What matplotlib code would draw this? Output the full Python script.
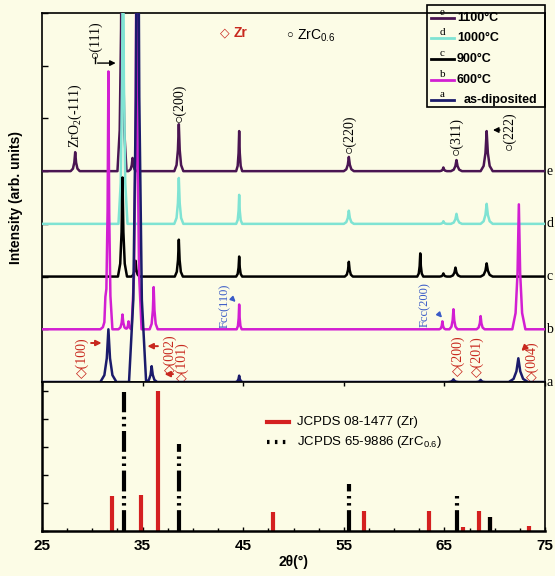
import numpy as np
import matplotlib
matplotlib.use('Agg')
import matplotlib.pyplot as plt

# kolory
BG = '#fcfce6'
C_E = '#4a1552'
C_D = '#7fe3d3'
C_C = '#000000'
C_B = '#d21fd2'
C_A = '#1b1b6b'
RED = '#c8281e'
BLUE = '#3a5bc7'

SERIF = ['Liberation Serif', 'DejaVu Serif']
SANS = ['Liberation Sans', 'DejaVu Sans']
plt.rcParams['font.family'] = SANS

# piki: (2theta, wysokosc, polszerokosc podstawy)
peaks_e = [(28.3, 0.36, 0.45), (32.95, 6.0, 0.45), (34.0, 0.25, 0.4), (38.6, 0.89, 0.45),
           (44.6, 0.76, 0.3), (55.5, 0.27, 0.5), (64.9, 0.07, 0.35), (66.2, 0.21, 0.55),
           (69.2, 0.76, 0.6)]
peaks_d = [(33.05, 6.0, 0.45), (38.6, 0.87, 0.45), (44.6, 0.55, 0.3), (55.5, 0.25, 0.5),
           (64.9, 0.05, 0.35), (66.2, 0.19, 0.55), (69.2, 0.38, 0.6)]
peaks_c = [(33.0, 1.88, 0.45), (34.3, 0.3, 0.4), (38.6, 0.7, 0.4), (44.6, 0.38, 0.3),
           (55.5, 0.28, 0.4), (62.6, 0.44, 0.3), (64.9, 0.06, 0.35), (66.1, 0.17, 0.5),
           (69.2, 0.25, 0.6)]
peaks_b = [(31.3, 0.3, 0.5), (31.6, 4.86, 0.4), (33.0, 0.28, 0.4), (33.6, 0.15, 0.3),
           (34.4, 8.0, 0.5), (36.1, 0.8, 0.4), (44.6, 0.47, 0.25), (64.8, 0.15, 0.3),
           (65.9, 0.38, 0.4), (68.6, 0.25, 0.4), (72.4, 2.37, 0.65)]
peaks_a = [(31.6, 1.0, 0.8), (34.5, 12.0, 0.85), (35.9, 0.3, 0.55), (44.6, 0.12, 0.35),
           (65.9, 0.05, 0.55), (68.6, 0.04, 0.45), (72.35, 0.45, 0.95)]

curves = [('a', peaks_a, C_A, 'as-diposited'),
          ('b', peaks_b, C_B, '600°C'),
          ('c', peaks_c, C_C, '900°C'),
          ('d', peaks_d, C_D, '1000°C'),
          ('e', peaks_e, C_E, '1100°C')]

# wzorce JCPDS
zr_pos = [31.95, 34.84, 36.51, 47.99, 56.96, 63.48, 66.8, 68.45, 69.55, 73.45]
zr_int = [1.25, 1.28, 5.0, 0.68, 0.72, 0.72, 0.15, 0.72, 0.5, 0.17]
zrc_pos = [33.2, 38.6, 55.5, 66.3, 69.5]
zrc_int = [4.96, 3.1, 1.68, 1.4, 0.5]

# ksztalt piku (stala stylu)
shape_dx = np.array([-1.0, -0.5, -0.2, 0.0, 0.2, 0.5, 1.0])
shape_h = np.array([0.0, 0.13, 0.45, 1.0, 0.45, 0.13, 0.0])


def spectrum(peaks):
    xs = [25.0, 75.0]
    for p, h, w in peaks:
        xs.extend(p + shape_dx * w)
    xs = np.unique(np.clip(xs, 25, 75))
    ys = np.zeros_like(xs)
    for p, h, w in peaks:
        ys += h * np.interp(xs, p + shape_dx * w, shape_h, left=0, right=0)
    return xs, ys


fig = plt.figure(figsize=(5.55, 5.76), dpi=100, facecolor=BG)
L, R = 42 / 555, 545 / 555
yt, ym, yb = 1 - 13 / 576, 1 - 382 / 576, 1 - 531 / 576
ax = fig.add_axes([L, ym, R - L, yt - ym], facecolor=BG)
ax2 = fig.add_axes([L, yb, R - L, ym - yb], facecolor=BG)

for i, (lab, pk, col, txt) in enumerate(curves):
    x, y = spectrum(pk)
    ax.plot(x, y + i, color=col, lw=1.8, solid_joinstyle='round', zorder=3 + (4 - i) * 0.1)
    ax.text(75.15, i, lab, family=SERIF, fontsize=10, va='center', ha='left')

ax.set_xlim(25, 75)
ax.set_ylim(0, 7.0)
ax.set_xticks([])
ax.set_yticks(range(0, 8))
ax.set_yticklabels([])
ax.tick_params(axis='y', direction='in', length=4, width=1)
for s in ax.spines.values():
    s.set_linewidth(1.2)
ax.set_ylabel('Intensity (arb. units)', fontsize=10, fontweight='bold', labelpad=10)

# opisy pikow
kw = dict(family=SERIF, fontsize=10, rotation=90, ha='center', va='bottom')
ax.text(28.3, 4.44, 'ZrO$_\\mathregular{2}$(-111)', **kw)
ax.text(30.25, 6.15, '○(111)', **kw)
ax.text(38.6, 4.93, '○(200)', **kw)
ax.text(55.5, 4.35, '○(220)', **kw)
ax.text(66.2, 4.31, '○(311)', **kw)
ax.text(71.4, 4.4, '○(222)', **kw)
arr = dict(arrowstyle='-|>', lw=1, color='k', mutation_scale=8)
ax.annotate('', xy=(32.6, 6.05), xytext=(30.25, 6.05), arrowprops=arr)
ax.plot([30.25, 30.25], [6.05, 6.16], color='k', lw=1)
ax.annotate('', xy=(69.55, 4.78), xytext=(70.8, 4.78), arrowprops=arr)

kr = dict(family=SERIF, fontsize=10, rotation=90, ha='center', va='center', color=RED)
ax.text(29.0, 0.47, '◇(100)', **kr)
ax.text(37.75, 0.51, '◇(002)', **kr)
ax.text(38.95, 0.36, '◇(101)', **kr)
ax.text(66.35, 0.49, '◇(200)', **kr)
ax.text(68.3, 0.49, '◇(201)', **kr)
ax.text(73.75, 0.38, '◇(004)', **kr)
arr_r = dict(arrowstyle='-|>', lw=1.4, color=RED, mutation_scale=8)
ax.annotate('', xy=(31.2, 0.74), xytext=(29.6, 0.74), arrowprops=arr_r)
ax.annotate('', xy=(35.2, 0.68), xytext=(36.8, 0.68), arrowprops=arr_r)
ax.annotate('', xy=(36.9, 0.15), xytext=(38.3, 0.15), arrowprops=arr_r)
ax.annotate('', xy=(72.45, 0.55), xytext=(73.15, 0.68), arrowprops=arr_r)

kb = dict(family=SERIF, fontsize=9, rotation=90, ha='center', va='center', color=BLUE)
ax.text(43.2, 1.44, 'Fcc(110)', **kb)
ax.text(63.1, 1.46, 'Fcc(200)', **kb)
arr_b = dict(arrowstyle='-|>', lw=1.2, color=BLUE, mutation_scale=7)
ax.annotate('', xy=(44.45, 1.48), xytext=(43.7, 1.62), arrowprops=arr_b)
ax.annotate('', xy=(64.95, 1.18), xytext=(64.3, 1.32), arrowprops=arr_b)

ax.text(43.2, 6.62, '◇', color=RED, fontsize=9, family=SERIF, ha='center', va='center')
ax.text(44.0, 6.62, 'Zr', color=RED, fontsize=10, fontweight='bold', va='center')
ax.text(49.6, 6.57, '○', color='k', fontsize=8, family=SERIF, ha='center', va='center')
ax.text(50.3, 6.57, 'ZrC$_\\mathregular{0.6}$', color='k', fontsize=10, va='center')

# legenda temperatur (recznie)
ax.add_patch(plt.Rectangle((0.765, 0.745), 0.235, 0.277, transform=ax.transAxes,
                           fill=False, lw=1.2, ec='k', clip_on=False, zorder=6))
ypx = [100, 80, 59, 38, 18]
for (lab, pk, col, txt), yp in zip(curves, ypx):
    yf = (382 - yp) / 369
    ax.plot([0.773, 0.819], [yf, yf], transform=ax.transAxes, color=col, lw=2,
            clip_on=False, zorder=7)
    ax.text(0.796, yf + 0.002, lab, transform=ax.transAxes, family=SERIF, fontsize=8,
            ha='center', va='bottom', zorder=7)
    xt = 0.839 if lab == 'a' else 0.825
    ax.text(xt, yf, txt, transform=ax.transAxes, fontsize=9, fontweight='bold',
            va='center', ha='left', zorder=7)

# dolny panel
for p, h in zip(zr_pos, zr_int):
    ax2.plot([p, p], [0, h], color='#d42020', lw=3, solid_capstyle='butt')
for p, h in zip(zrc_pos, zrc_int):
    ax2.plot([p, p], [0, h], color='k', lw=3, ls=(0, (5, 1.1, 0.6, 1.1, 0.6, 1.1)),
             dash_capstyle='butt')
ax2.set_xlim(25, 75)
ax2.set_ylim(0, 5.32)
ax2.set_yticks(range(0, 6))
ax2.set_yticklabels([])
ax2.set_xticks(range(25, 76, 10))
ax2.set_xticks(np.arange(27.5, 75, 2.5), minor=True)
ax2.tick_params(axis='x', which='both', direction='in', top=True, length=3, width=1,
                labelsize=11, pad=6)
ax2.tick_params(axis='x', which='minor', top=False, length=2)
ax2.tick_params(axis='y', direction='in', length=4, width=1)
for t in ax2.get_xticklabels():
    t.set_fontweight('bold')
for s in ax2.spines.values():
    s.set_linewidth(1.2)
ax2.spines['left'].set_linewidth(1.8)
ax2.spines['bottom'].set_linewidth(1.8)
ax2.set_xlabel('2θ(°)', fontsize=10, fontweight='bold', labelpad=1)

ax2.plot([0.448, 0.492], [0.732, 0.732], transform=ax2.transAxes, color='#d42020', lw=3)
ax2.plot([0.448, 0.492], [0.598, 0.598], transform=ax2.transAxes, color='k', lw=3,
         ls=(0, (0.6, 1.3)))
ax2.text(0.506, 0.732, 'JCPDS 08-1477 (Zr)', transform=ax2.transAxes, fontsize=9.5,
         va='center')
ax2.text(0.506, 0.598, 'JCPDS 65-9886 (ZrC$_\\mathregular{0.6}$)', transform=ax2.transAxes,
         fontsize=9.5, va='center')

fig.savefig('out.png', dpi=100, facecolor=BG)
